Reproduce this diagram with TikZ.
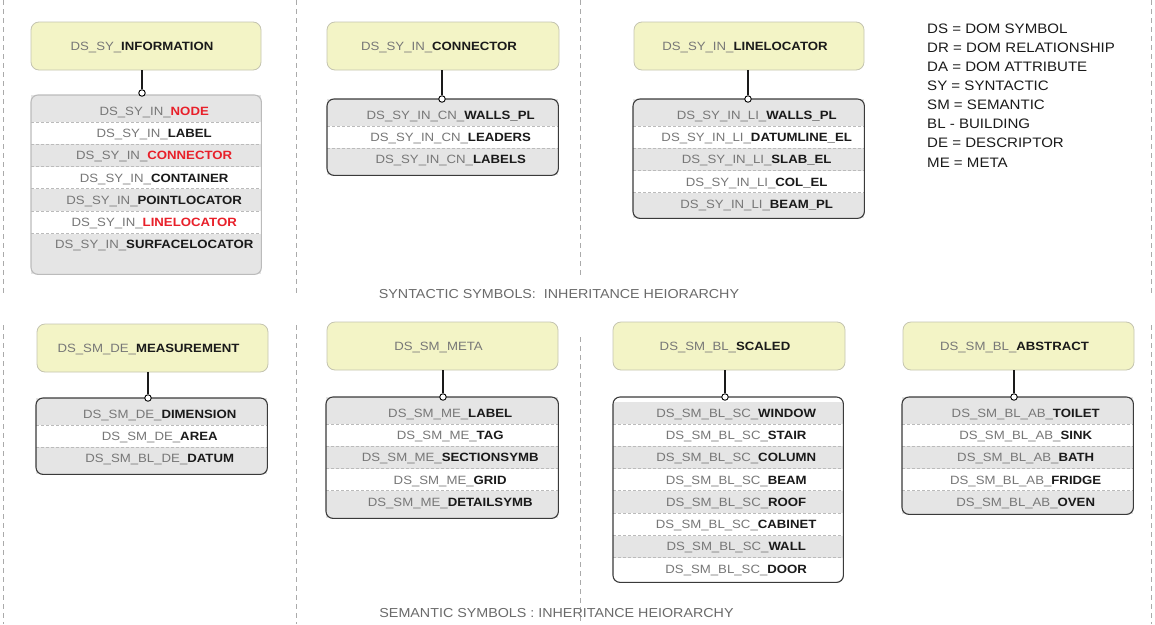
\documentclass[tikz,border=0pt]{standalone}
\usepackage{fontspec}
\setmainfont{Liberation Sans}[FakeStretch=1.1]
\definecolor{hdrfill}{HTML}{F3F4C6}
\definecolor{hdrline}{HTML}{C4C4B0}
\definecolor{rowgrey}{HTML}{E5E5E5}
\definecolor{pregrey}{HTML}{777777}
\definecolor{redtxt}{HTML}{E8202A}
\definecolor{sufblack}{HTML}{1A1A1A}
\definecolor{darkline}{HTML}{3A3A3A}
\definecolor{lightline}{HTML}{BBBBBB}
\definecolor{sepline}{HTML}{AAAAAA}
\definecolor{titlegrey}{HTML}{6A6A6A}

\newcommand\rowfont{\fontsize{12}{14}\selectfont}
\newcommand\legendfont{\fontsize{13.7}{16}\selectfont}
\newcommand\titlefont{\fontsize{13}{15}\selectfont}

% list of inherited symbols under a header:
% #1 name, #2 x1, #3 y1, #4 x2, #5 y2, #6 border colour, #7 background, #8 rows prefix/suffix/colour
\newcommand\symlist[8]{%
  \node[listbg, fill=#7, minimum width={#4-#2}, minimum height={#5-#3}, anchor=north west] (#1) at (#2,#3) {};
  \begin{scope}
    \clip[rounded corners=7pt] (#1.south west) rectangle (#1.north east);
    \foreach \pre/\suf/\col [count=\i] in {#8} {
      \pgfmathsetmacro\rowy{#3+4.5+(\i-1)*22.3}
      \pgfmathtruncatemacro\odd{mod(\i,2)}
      \ifnum\odd=1 \def\rowfill{rowgrey}\else\def\rowfill{white}\fi
      \node[rowbox, fill=\rowfill, minimum width={#4-#2}, anchor=north west] (#1-\i) at (#2,\rowy)
        {\hspace*{16pt}{\color{pregrey}\pre}{\color{\col}\bfseries\suf}};
      \ifnum\i>1 \draw[divider] (#1-\i.north west) -- (#1-\i.north east);\fi
    }
  \end{scope}
  \draw[rounded corners=7pt, draw=#6, line width=1.1pt] (#1.south west) rectangle (#1.north east);
}

\begin{document}
\begin{tikzpicture}[x=1pt, y=-1pt,
  hdr/.style={rectangle, rounded corners=8pt, fill=hdrfill, draw=hdrline, line width=0.8pt,
    inner sep=0pt, minimum width=230pt, minimum height=48pt, font=\rowfont, text height=8.6pt, text depth=0pt},
  listbg/.style={rectangle, inner sep=0pt, draw=none},
  rowbox/.style={rectangle, inner sep=0pt, draw=none, minimum height=22.3pt, font=\rowfont,
    text height=8.6pt, text depth=0pt},
  divider/.style={draw=lightline, line width=0.6pt, dash pattern=on 3pt off 2pt},
  knob/.style={circle, draw=black, fill=white, inner sep=0pt, minimum size=6.5pt, line width=0.9pt},
  link/.style={draw=sufblack, line width=2pt},
  sepdash/.style={draw=sepline, line width=0.7pt, dash pattern=on 5pt off 4pt},
  legendtxt/.style={anchor=base west, inner sep=0pt, font=\legendfont, text=sufblack},
  titletxt/.style={inner sep=0pt, font=\titlefont, text=titlegrey, text height=9.3pt, text depth=0pt}]

\useasboundingbox (0,0) rectangle (1155,624);

% column separators
\draw[sepdash] (3,0) -- (3,295);      \draw[sepdash] (3,325) -- (3,624);
\draw[sepdash] (296,0) -- (296,295);  \draw[sepdash] (296,325) -- (296,624);
\draw[sepdash] (580,0) -- (580,275);  \draw[sepdash] (580,337) -- (580,624);
\draw[sepdash] (1151,0) -- (1151,295); \draw[sepdash] (1151,325) -- (1151,624);

% ---------- syntactic symbols ----------
\node[hdr] (h1) at (146,46) {{\color{pregrey}DS\_SY\_}{\color{sufblack}\bfseries INFORMATION}\hspace*{8pt}};
\symlist{b1}{31}{95}{261}{274}{lightline}{rowgrey}{%
  DS\_SY\_IN\_/NODE/redtxt,
  DS\_SY\_IN\_/LABEL/sufblack,
  DS\_SY\_IN\_/CONNECTOR/redtxt,
  DS\_SY\_IN\_/CONTAINER/sufblack,
  DS\_SY\_IN\_/POINTLOCATOR/sufblack,
  DS\_SY\_IN\_/LINELOCATOR/redtxt,
  DS\_SY\_IN\_/SURFACELOCATOR/sufblack}
\node[knob] (k1) at (142,93) {};
\draw[link] (h1.south -| k1) -- (k1.north);

\node[hdr, minimum width=232pt] (h2) at (443,46) {{\color{pregrey}DS\_SY\_IN\_}{\color{sufblack}\bfseries CONNECTOR}\hspace*{8pt}};
\symlist{b2}{327}{99}{558}{175}{darkline}{rowgrey}{%
  DS\_SY\_IN\_CN\_/WALLS\_PL/sufblack,
  DS\_SY\_IN\_CN\_/LEADERS/sufblack,
  DS\_SY\_IN\_CN\_/LABELS/sufblack}
\node[knob] (k2) at (442,99) {};
\draw[link] (h2.south -| k2) -- (k2.north);

\node[hdr] (h3) at (749,46) {{\color{pregrey}DS\_SY\_IN\_}{\color{sufblack}\bfseries LINELOCATOR}\hspace*{8pt}};
\symlist{b3}{633}{99}{864}{218}{darkline}{rowgrey}{%
  DS\_SY\_IN\_LI\_/WALLS\_PL/sufblack,
  DS\_SY\_IN\_LI\_/DATUMLINE\_EL/sufblack,
  DS\_SY\_IN\_LI\_/SLAB\_EL/sufblack,
  DS\_SY\_IN\_LI\_/COL\_EL/sufblack,
  DS\_SY\_IN\_LI\_/BEAM\_PL/sufblack}
\node[knob] (k3) at (748,99) {};
\draw[link] (h3.south -| k3) -- (k3.north);

% abbreviations
\foreach \txt [count=\n] in {DS = DOM SYMBOL, DR = DOM RELATIONSHIP, DA = DOM ATTRIBUTE,
  SY = SYNTACTIC, SM = SEMANTIC, BL - BUILDING, DE = DESCRIPTOR, ME = META}
  \node[legendtxt] (lg\n) at (927,{33+(\n-1)*19.15}) {\txt};

\node[titletxt] (t1) at (559,294) {SYNTACTIC SYMBOLS:\ \ INHERITANCE HEIORARCHY};

% ---------- semantic symbols ----------
\node[hdr, minimum width=231pt] (h4) at (152.5,348) {{\color{pregrey}DS\_SM\_DE\_}{\color{sufblack}\bfseries MEASUREMENT}\hspace*{8pt}};
\symlist{b4}{36}{398}{267}{474}{darkline}{rowgrey}{%
  DS\_SM\_DE\_/DIMENSION/sufblack,
  DS\_SM\_DE\_/AREA/sufblack,
  DS\_SM\_BL\_DE\_/DATUM/sufblack}
\node[knob] (k4) at (148,398) {};
\draw[link] (h4.south -| k4) -- (k4.north);

\node[hdr, minimum width=231pt] (h5) at (442.5,346) {{\color{pregrey}DS\_SM\_META}\hspace*{8pt}};
\symlist{b5}{326}{397}{558}{518}{darkline}{rowgrey}{%
  DS\_SM\_ME\_/LABEL/sufblack,
  DS\_SM\_ME\_/TAG/sufblack,
  DS\_SM\_ME\_/SECTIONSYMB/sufblack,
  DS\_SM\_ME\_/GRID/sufblack,
  DS\_SM\_ME\_/DETAILSYMB/sufblack}
\node[knob] (k5) at (443,397) {};
\draw[link] (h5.south -| k5) -- (k5.north);

\node[hdr, minimum width=232pt] (h6) at (729,346) {{\color{pregrey}DS\_SM\_BL\_}{\color{sufblack}\bfseries SCALED}\hspace*{8pt}};
\symlist{b6}{613}{397}{843}{582}{darkline}{white}{%
  DS\_SM\_BL\_SC\_/WINDOW/sufblack,
  DS\_SM\_BL\_SC\_/STAIR/sufblack,
  DS\_SM\_BL\_SC\_/COLUMN/sufblack,
  DS\_SM\_BL\_SC\_/BEAM/sufblack,
  DS\_SM\_BL\_SC\_/ROOF/sufblack,
  DS\_SM\_BL\_SC\_/CABINET/sufblack,
  DS\_SM\_BL\_SC\_/WALL/sufblack,
  DS\_SM\_BL\_SC\_/DOOR/sufblack}
\node[knob] (k6) at (725,397) {};
\draw[link] (h6.south -| k6) -- (k6.north);

\node[hdr, minimum width=231pt] (h7) at (1018.5,346) {{\color{pregrey}DS\_SM\_BL\_}{\color{sufblack}\bfseries ABSTRACT}\hspace*{8pt}};
\symlist{b7}{902}{397}{1133}{514}{darkline}{rowgrey}{%
  DS\_SM\_BL\_AB\_/TOILET/sufblack,
  DS\_SM\_BL\_AB\_/SINK/sufblack,
  DS\_SM\_BL\_AB\_/BATH/sufblack,
  DS\_SM\_BL\_AB\_/FRIDGE/sufblack,
  DS\_SM\_BL\_AB\_/OVEN/sufblack}
\node[knob] (k7) at (1014,397) {};
\draw[link] (h7.south -| k7) -- (k7.north);

\node[titletxt] (t2) at (556.5,613) {SEMANTIC SYMBOLS : INHERITANCE HEIORARCHY};

\end{tikzpicture}
\end{document}
